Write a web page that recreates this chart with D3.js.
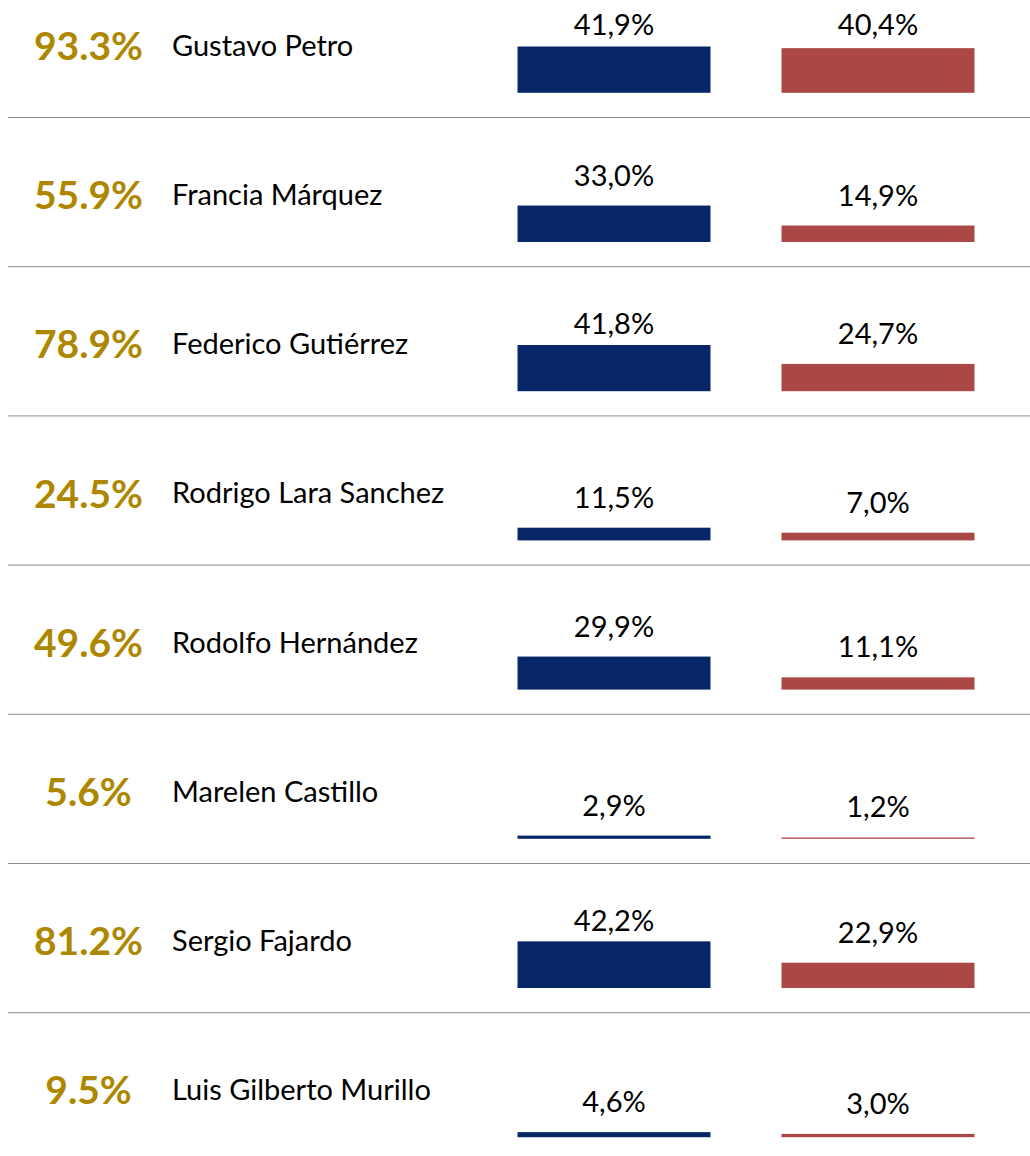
<!DOCTYPE html>
<html>
<head>
<meta charset="utf-8">
<script src="https://cdn.jsdelivr.net/npm/d3@7"></script>
<style>
  html, body { margin: 0; padding: 0; background: #fff; }
  svg { display: block; }
</style>
</head>
<body>
<div id="chart"></div>
<script>
// candidates, overall value (gold) and the two bar series
const names = ["Gustavo Petro", "Francia Márquez", "Federico Gutiérrez", "Rodrigo Lara Sanchez",
  "Rodolfo Hernández", "Marelen Castillo", "Sergio Fajardo", "Luis Gilberto Murillo"];
const totals = [93.3, 55.9, 78.9, 24.5, 49.6, 5.6, 81.2, 9.5];
const blueVals = [41.9, 33.0, 41.8, 11.5, 29.9, 2.9, 42.2, 4.6];
const redVals = [40.4, 14.9, 24.7, 7.0, 11.1, 1.2, 22.9, 3.0];
const series = ["blue", "red"];

const w = 1030;
const h = 1156;
const rowH = 149.2;
const top0 = -31.2;

const colors = { blue: "#072668", red: "#AB4845" };
const gold = "#AE8700";

// comma decimal for the bar labels
const esFmt = d3.formatLocale({ decimal: ",", thousands: ".", grouping: [3], currency: ["", ""] }).format(".1f");

// row scale
const yRow = d3.scaleBand()
  .domain(names)
  .range([top0, top0 + rowH * names.length]);

// bar columns
const xBar = d3.scaleBand()
  .domain(series)
  .range([517.5, 974.5])
  .paddingInner(0.269)
  .paddingOuter(0);

// bar height scale
const hScale = d3.scaleLinear()
  .domain([0, 100])
  .range([0, 110.5]);

const svg = d3.select("#chart")
  .append("svg")
  .attr("width", w)
  .attr("height", h);

const rows = names.map((n, i) => ({
  name: n, total: totals[i], blue: blueVals[i], red: redVals[i]
}));

const g = svg.selectAll("g.row")
  .data(rows)
  .enter()
  .append("g")
    .attr("class", "row")
    .attr("transform", d => `translate(0, ${yRow(d.name)})`);

// separator lines
g.filter((d, i) => i < names.length - 1)
  .append("line")
    .attr("x1", 8)
    .attr("x2", w)
    .attr("y1", rowH - 0.5)
    .attr("y2", rowH - 0.5)
    .attr("stroke", "#8c8c8c")
    .attr("stroke-width", 1);

// gold percentage
g.append("text")
  .attr("x", 88.5)
  .attr("y", 91.2)
  .attr("text-anchor", "middle")
  .attr("font-family", "Lato, 'Open Sans', sans-serif")
  .attr("font-weight", "bold")
  .attr("font-size", 39)
  .attr("fill", gold)
  .text(d => d.total.toFixed(1) + "%");

// candidate name
g.append("text")
  .attr("x", 172)
  .attr("y", 87)
  .attr("font-family", "Lato, 'Open Sans', sans-serif")
  .attr("font-size", 29)
  .attr("fill", "#000")
  .text(d => d.name);

const base = 124;

series.forEach(s => {
  g.append("rect")
    .attr("x", xBar(s))
    .attr("width", xBar.bandwidth())
    .attr("y", d => base - hScale(d[s]))
    .attr("height", d => hScale(d[s]))
    .attr("fill", colors[s]);

  g.append("text")
    .attr("x", xBar(s) + xBar.bandwidth() / 2)
    .attr("y", d => Math.max(base - hScale(d[s]) - 20, base - 57.5))
    .attr("text-anchor", "middle")
    .attr("font-family", "Lato, 'Open Sans', sans-serif")
    .attr("font-size", 29)
    .attr("fill", "#000")
    .text(d => esFmt(d[s]) + "%");
});
</script>
</body>
</html>
